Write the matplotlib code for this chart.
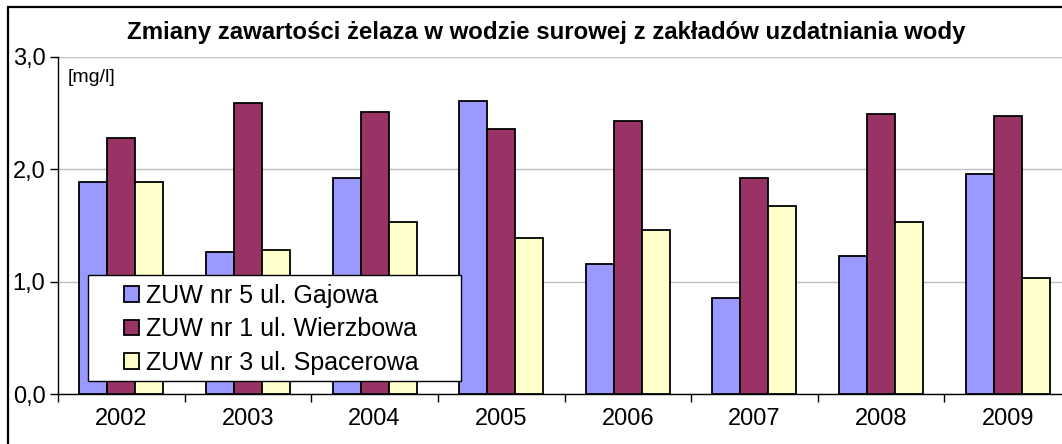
import numpy as np
import matplotlib
matplotlib.use("Agg")
import matplotlib.pyplot as plt
from matplotlib.patches import Rectangle

plt.rcParams['font.family'] = ['Liberation Sans', 'DejaVu Sans']

# dane
years = ['2002', '2003', '2004', '2005', '2006', '2007', '2008', '2009']
gajowa = [1.89, 1.26, 1.92, 2.61, 1.16, 0.85, 1.23, 1.96]
wierzbowa = [2.28, 2.59, 2.51, 2.36, 2.43, 1.92, 2.49, 2.47]
spacerowa = [1.89, 1.28, 1.53, 1.39, 1.46, 1.67, 1.53, 1.03]

series = [
    ('ZUW nr 5 ul. Gajowa', gajowa, '#9999FF'),
    ('ZUW nr 1 ul. Wierzbowa', wierzbowa, '#993366'),
    ('ZUW nr 3 ul. Spacerowa', spacerowa, '#FFFFCC'),
]

fig = plt.figure(figsize=(10.62, 4.44), dpi=100)
ax = fig.add_axes([58 / 1062, 50 / 444, (1071 - 58) / 1062, (394 - 56.7) / 444])

x = np.arange(len(years))
w = 0.221
for i, (name, vals, col) in enumerate(series):
    ax.bar(x + (i - 1) * w, vals, width=w, color=col, edgecolor='black',
           linewidth=1.3, label=name, zorder=3)

ax.set_xlim(-0.5, len(years) - 0.5)
ax.set_ylim(0, 3.0)
ax.set_yticks([0, 1, 2, 3])
ax.set_yticklabels(['0,0', '1,0', '2,0', '3,0'], fontsize=17)
ax.set_xticks(x)
ax.set_xticklabels(years, fontsize=17)
ax.set_xticks(np.arange(len(years)) - 0.5, minor=True)
ax.tick_params(axis='x', which='major', length=0, pad=10)
ax.tick_params(axis='x', which='minor', length=6, width=1)
ax.tick_params(axis='y', length=6, width=1, pad=3)
ax.grid(axis='y', color='#c0c0c0', linewidth=1, zorder=0)
for s in ['top', 'right']:
    ax.spines[s].set_visible(False)
for s in ['left', 'bottom']:
    ax.spines[s].set_linewidth(1)

ax.text(68 / 1062, 1 - 77 / 444, '[mg/l]', transform=fig.transFigure,
        fontsize=14, va='center', ha='left')

# ramka legendy
ax.add_patch(Rectangle((88 / 1062, 1 - 381 / 444), 373 / 1062, 106 / 444,
                       transform=fig.transFigure, facecolor='white',
                       edgecolor='black', linewidth=1, zorder=4, clip_on=False))
leg = ax.legend(loc='upper left', bbox_to_anchor=(124 / 1062, 1 - 283.5 / 444),
                bbox_transform=fig.transFigure, fontsize=18, frameon=False,
                handlelength=0.6, handleheight=0.6, handletextpad=0.3,
                labelspacing=0.39, borderpad=0, borderaxespad=0)
leg.set_zorder(5)

fig.text(546 / 1062, 1 - 32 / 444,
         'Zmiany zawartości żelaza w wodzie surowej z zakładów uzdatniania wody',
         ha='center', va='center', fontsize=17.3, fontweight='bold')

# ramka wykresu
fig.patches.append(Rectangle((8 / 1062, -0.1), 1.2, 1 - 7 / 444 + 0.1,
                             transform=fig.transFigure, fill=False,
                             edgecolor='black', linewidth=1.6))

fig.savefig('out.png', dpi=100)
